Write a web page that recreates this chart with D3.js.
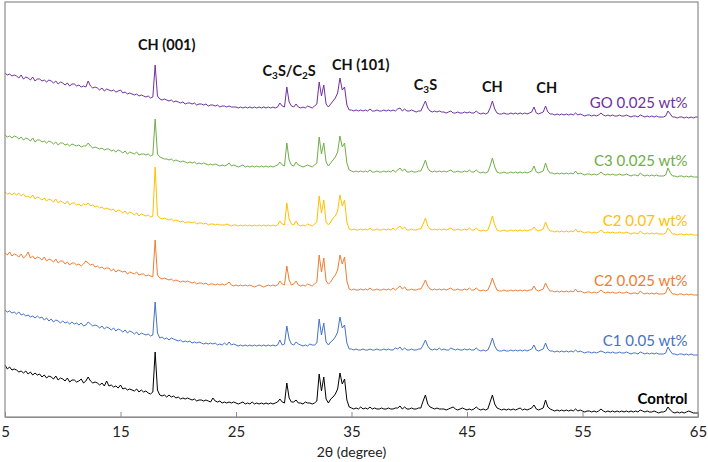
<!DOCTYPE html>
<html><head><meta charset="utf-8">
<script src="https://cdn.jsdelivr.net/npm/d3@7"></script>
<style>body{margin:0;background:#fff}svg{display:block}text{font-family:Lato,"Open Sans",sans-serif}</style>
</head><body><svg id="chart" width="708" height="462"></svg>
<script>
// 2θ grid: 5° to 65° every 0.2°
const angleStart = 5, angleEnd = 65, angleStep = 0.2;
const tickValues = [5, 15, 25, 35, 45, 55, 65];
const seriesNames = ["Control", "C1 0.05 wt%", "C2 0.025 wt%", "C2 0.07 wt%", "C3 0.025 wt%", "GO 0.025 wt%"];
const seriesColors = ["#000000", "#4472c4", "#ed7d31", "#ffc000", "#70ad47", "#7030a0"];
const stackOffsets = [0, 58, 118, 178, 238, 296];
const peakLabels = ["CH (001)", "C3S/C2S", "CH (101)", "C3S", "CH", "CH"];
const peakLabelAngles = [19.0, 29.6, 35.8, 41.4, 47.2, 51.9];
const peakLabelLevels = [367, 341, 347, 327, 325, 324];

const control = [
52,48,50,47,48, 47,45,46,44,46, 43,45,42,44,42, 43,40,42,39,41, 40,38,41,37,39,
38,36,39,35,37, 37,35,36,38,34, 36,40,36,34,35, 34,32,34,31,36, 31,32,30,31,29,
32,28,29,27,28, 27,26,28,25,27, 25,26,24,23,25, 65,27,22,21,22, 20,22,20,21,19,
20,18,19,18,19, 18,17,18,16,17, 17,16,17,16,15, 19,16,15,16,14, 15,14,15,14,15,
14,13,14,15,13, 14,13,15,13,14, 13,14,13,14,13, 14,13,14,15,18, 15,14,34,19,15,
15,17,14,14,13, 15,14,14,13,14, 16,43,26,40,18, 14,18,20,23,28, 44,33,38,17,10,
9,8,9,8,10, 8,9,8,10,8, 9,8,8,9,8, 8,9,8,8,9, 9,11,8,10,8,
8,9,8,8,9, 9,16,22,13,10, 9,8,9,8,8, 8,7,8,9,10, 8,7,8,9,8,
7,8,7,8,10, 8,7,8,7,8, 15,22,13,9,8, 7,8,7,8,7, 8,7,8,9,7,
8,7,8,9,12, 8,7,8,9,17, 10,8,7,6,7, 6,7,6,7,6, 7,6,8,6,7,
6,5,6,6,5, 6,5,6,8,6, 5,6,5,6,5, 6,5,6,5,6, 5,6,5,6,5,
7,6,5,6,5, 5,6,5,4,5, 5,6,10,7,5, 4,5,4,5,4, 5,6,5,4,4, 4];

const c1 = [
49,47,48,46,47, 45,47,44,45,43, 44,42,43,41,43, 41,42,39,41,38, 40,37,39,38,36,
38,36,37,35,37, 35,36,34,36,33, 34,37,35,33,34, 33,31,33,30,32, 31,29,31,28,30,
29,27,29,26,28, 27,25,27,24,26, 25,24,25,23,24, 57,26,21,22,20, 21,19,21,20,19,
18,19,17,18,17, 18,16,17,16,17, 16,15,16,15,16, 15,16,14,15,14, 16,14,17,14,15,
14,13,14,13,14, 13,14,13,14,13, 14,13,14,13,14, 13,14,13,14,19, 14,15,33,20,15,
14,17,15,14,13, 14,13,15,14,14, 16,40,24,36,17, 14,17,19,22,27, 42,31,34,16,10,
10,9,10,9,9, 10,9,9,10,9, 9,10,9,9,10, 9,10,9,9,11, 10,12,9,11,9,
9,10,9,9,10, 10,14,19,13,10, 9,10,9,11,9, 10,9,9,11,10, 9,10,9,9,10,
9,10,9,9,11, 9,8,9,8,9, 14,21,13,9,8, 8,9,8,8,9, 8,9,8,9,8,
9,8,9,10,14, 9,8,9,10,16, 10,8,8,7,8, 7,8,7,8,7, 8,7,9,7,8,
7,6,7,7,6, 7,6,7,8,7, 6,7,6,7,6, 6,7,6,6,7, 6,5,6,6,5,
7,6,5,6,5, 6,5,6,5,5, 5,6,12,8,5, 5,4,5,5,4, 5,4,5,4,4, 4];

const c2low = [
46,44,47,43,45, 44,42,45,41,43, 47,41,43,40,42, 41,39,42,38,40, 39,37,40,36,38,
38,35,37,34,36, 36,34,35,33,35, 38,36,34,35,32, 33,31,32,30,31, 31,28,30,27,29,
28,27,28,25,27, 26,25,27,24,25, 25,23,24,23,22, 59,24,21,20,21, 20,19,20,18,19,
18,17,18,17,18, 17,16,17,15,16, 16,15,16,14,15, 15,14,15,14,15, 14,15,17,14,13,
14,13,14,13,14, 13,14,13,12,13, 14,13,12,13,14, 13,14,13,14,18, 15,14,33,19,14,
15,18,14,13,14, 13,15,14,13,15, 17,44,27,41,18, 15,17,21,24,29, 44,35,42,18,10,
9,10,9,9,10, 9,10,9,11,9, 9,10,9,9,10, 9,10,9,11,9, 11,13,10,12,9,
9,10,9,9,10, 10,14,19,13,10, 9,10,9,10,9, 10,9,10,11,9, 9,10,9,9,10,
9,11,9,9,11, 9,8,9,8,9, 14,21,14,9,8, 8,9,8,8,9, 8,9,8,9,8,
9,8,9,9,13, 9,8,9,10,16, 11,8,8,7,8, 7,8,7,8,7, 8,7,10,7,8,
7,6,7,7,6, 7,6,7,9,7, 6,7,6,7,6, 6,7,6,6,7, 6,5,6,6,5,
8,6,5,6,5, 6,5,6,5,5, 5,6,12,8,5, 5,4,5,5,4, 5,4,5,4,4, 4];

const c2high = [
47,45,46,44,46, 44,46,43,45,42, 43,41,44,40,42, 41,39,41,38,40, 39,37,40,36,38,
37,35,38,34,36, 36,34,35,33,35, 34,36,33,34,32, 33,31,32,30,31, 30,29,30,27,29,
28,26,28,25,27, 26,24,26,23,25, 24,23,24,22,23, 72,24,21,20,21, 20,19,20,18,19,
18,17,18,16,17, 17,16,17,15,16, 16,15,16,14,15, 15,14,15,14,14, 14,15,14,13,14,
14,13,14,13,14, 13,14,13,14,13, 14,13,14,13,14, 13,14,13,14,18, 15,14,36,20,15,
14,18,14,13,14, 13,15,14,13,15, 17,43,26,39,17, 14,17,21,23,28, 44,33,39,17,10,
9,10,9,9,10, 9,10,9,11,9, 9,10,9,9,10, 9,10,9,11,9, 11,13,10,12,9,
9,10,9,9,10, 10,15,21,13,10, 9,10,9,10,9, 10,9,10,11,9, 9,10,9,9,10,
9,11,9,9,11, 9,8,9,8,9, 15,23,14,9,8, 8,9,8,8,9, 8,9,8,9,8,
9,8,9,9,12, 9,8,9,10,17, 11,8,8,7,8, 7,8,7,8,7, 8,7,10,7,8,
7,6,7,7,6, 7,6,7,9,7, 6,7,6,7,6, 6,7,6,6,7, 6,5,6,6,5,
8,6,5,6,5, 6,5,6,5,5, 5,6,11,8,5, 5,4,5,5,4, 5,4,5,4,4, 4];

const c3 = [
44,42,43,41,43, 42,40,42,39,41, 40,38,41,37,39, 39,37,38,36,38, 37,35,37,34,36,
36,34,35,33,35, 34,33,34,32,33, 33,36,33,31,32, 31,30,31,29,30, 30,28,29,27,29,
28,26,28,25,27, 26,25,27,24,25, 25,24,25,23,24, 60,25,22,21,20, 20,19,20,18,19,
18,17,18,17,16, 17,16,17,15,16, 15,16,15,14,15, 14,15,14,13,14, 13,14,16,13,14,
13,12,13,14,12, 13,12,13,12,13, 12,13,12,13,12, 13,12,13,14,17, 14,13,36,19,14,
13,17,14,13,12, 13,14,13,12,14, 16,42,25,36,17, 13,16,19,22,27, 43,32,36,16,9,
8,7,8,7,8, 7,8,7,9,7, 7,8,7,7,8, 7,8,7,9,7, 9,11,8,10,7,
7,8,7,7,8, 8,13,19,11,8, 7,8,7,8,7, 8,7,8,9,7, 7,8,7,7,8,
7,9,7,7,9, 7,6,7,6,7, 13,21,12,7,6, 6,7,6,6,7, 6,7,6,7,6,
7,6,7,8,13, 7,6,7,8,16, 9,6,6,5,6, 5,6,5,6,5, 6,5,8,5,6,
5,4,5,5,4, 5,4,5,7,5, 4,5,4,5,4, 4,5,4,4,5, 4,3,4,4,3,
6,4,3,4,3, 4,3,4,3,3, 3,4,11,6,3, 3,2,3,3,2, 3,2,3,2,2, 2];

const go = [
48,46,47,45,46, 45,43,46,42,44, 43,41,44,40,42, 42,40,41,39,41, 40,38,40,37,39,
38,36,38,35,37, 37,35,36,34,35, 34,40,35,33,34, 33,31,33,30,32, 31,30,31,29,30,
31,28,29,27,28, 27,26,27,25,26, 25,24,25,23,24, 56,25,22,21,22, 21,20,21,19,20,
19,18,19,17,18, 18,17,18,16,17, 17,16,17,15,16, 16,15,16,14,15, 15,14,15,14,14,
14,13,14,13,14, 13,14,13,14,13, 14,13,14,13,14, 13,14,13,14,18, 15,14,34,19,15,
14,17,14,13,14, 13,15,14,13,15, 17,39,25,36,17, 14,17,20,23,28, 43,31,34,16,11,
11,10,11,10,11, 10,11,10,12,10, 10,11,10,10,11, 10,11,10,11,10, 12,13,10,12,10,
10,11,10,9,10, 10,15,20,13,10, 9,10,9,10,9, 9,8,9,10,8, 8,9,8,8,9,
8,9,8,8,10, 8,7,8,7,8, 13,20,12,8,7, 7,8,7,7,8, 7,8,7,8,7,
8,7,8,9,14, 8,7,8,9,15, 9,7,7,6,7, 6,7,6,7,6, 7,6,8,6,7,
6,5,6,6,5, 6,5,6,8,6, 5,6,5,6,5, 5,6,5,5,6, 5,4,5,5,4,
6,5,4,5,4, 5,4,5,4,4, 4,5,10,7,4, 4,3,4,4,3, 4,3,4,3,4, 4];

const seriesValues = [control, c1, c2low, c2high, c3, go];

const svg = d3.select("#chart");
const W = 708, H = 462;
const plotL = 5, plotR = 698, plotT = 2, plotB = 417;

const x = d3.scaleLinear().domain([angleStart, angleEnd]).range([plotL, plotR]);
const y = d3.scaleLinear().domain([0, 415]).range([plotB, plotT]);
const angles = d3.range(0, seriesValues[0].length).map(i => +(angleStart + i * angleStep).toFixed(2));

svg.append("rect").attr("width", W).attr("height", H).attr("fill", "#fff");

const line = d3.line().x((d, i) => x(angles[i])).y(d => d);

seriesValues.forEach((vals, k) => {
  svg.append("path")
    .attr("d", line(vals.map(v => y(v + stackOffsets[k]))))
    .attr("fill", "none")
    .attr("stroke", seriesColors[k])
    .attr("stroke-width", 1)
    .attr("stroke-linejoin", "round");
});

// frame
svg.append("rect").attr("x", plotL).attr("y", plotT).attr("width", plotR - plotL).attr("height", plotB - plotT)
  .attr("fill", "none").attr("stroke", "#8c8c8c").attr("stroke-width", 1.2);

const xAxis = svg.append("g").attr("transform", `translate(0,${plotB})`)
  .call(d3.axisBottom(x).tickValues(tickValues).tickSizeInner(-5).tickSizeOuter(0).tickPadding(9).tickFormat(d3.format("d")));
xAxis.select(".domain").attr("stroke", "#8c8c8c").attr("stroke-width", 1.2);
xAxis.selectAll(".tick line").attr("stroke", "#8c8c8c");
xAxis.selectAll(".tick text").attr("font-size", 15).attr("fill", "#222").attr("font-family", "Lato, sans-serif");

svg.append("text").attr("x", (plotL + plotR) / 2).attr("y", 457)
  .attr("text-anchor", "middle").attr("font-size", 14).attr("fill", "#222").text("2θ (degree)");

// series labels
seriesNames.forEach((name, k) => {
  svg.append("text")
    .attr("x", x(64.1)).attr("y", y(stackOffsets[k] + 18))
    .attr("dy", "0.35em").attr("text-anchor", "end")
    .attr("font-size", 15).attr("font-weight", k === 0 ? 700 : 400)
    .attr("fill", seriesColors[k]).text(name);
});

// peak labels with subscripts
peakLabels.forEach((lab, i) => {
  const t = svg.append("text")
    .attr("x", x(peakLabelAngles[i])).attr("y", y(peakLabelLevels[i]))
    .attr("dy", "0.35em").attr("text-anchor", "middle")
    .attr("font-size", 14.5).attr("font-weight", 700).attr("fill", "#111");
  const parts = lab.split(/(\d)(?=S)/);
  parts.forEach((p, j) => {
    if (j % 2 === 1) {
      t.append("tspan").attr("font-size", 10).attr("dy", 3).text(p);
    } else if (p.length) {
      t.append("tspan").attr("dy", j > 0 ? -3 : 0).text(p);
    }
  });
});
</script></body></html>
